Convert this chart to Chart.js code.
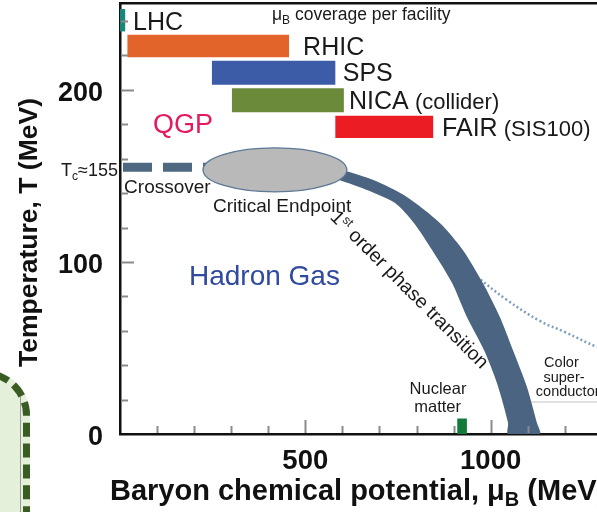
<!DOCTYPE html>
<html>
<head>
<meta charset="utf-8">
<title>QCD phase diagram</title>
<script src="https://cdn.jsdelivr.net/npm/chart.js@4/dist/chart.umd.min.js"></script>
<style>
  html, body { margin: 0; padding: 0; background: #fff; overflow: hidden; }
  #wrap { position: relative; width: 597px; height: 512px; overflow: hidden; }
  #inset { position: absolute; left: -70px; top: 370px; width: 100px; height: 220px; box-sizing: border-box;
           border: 7px dashed #3a5b22; border-radius: 45px; background: #e4f0da; }
  #insetEdge { position: absolute; left: 20px; top: 397px; width: 1px; height: 130px; background: #9c9c9c; }
  canvas { position: absolute; left: 0; top: 0; }
</style>
</head>
<body>
<div id="wrap">
  <div id="inset"></div>
  <div id="insetEdge"></div>
  <canvas id="c" width="597" height="512"></canvas>
</div>
<script>
// μB coverage (MeV) of each facility and the temperature strip its bar occupies
const facilities      = ['LHC', 'RHIC', 'SPS', 'NICA', 'FAIR'];
const facilityMuBLow  = [0, 20, 248, 302, 581];
const facilityMuBHigh = [14, 456, 581, 604, 845];
const facilityTLow    = [234, 219, 203, 187, 172];
const facilityTHigh   = [247, 232, 217, 201, 185];
const facilityColors  = ['#17877a', '#e2642a', '#3c5ca8', '#6b8b3a', '#ec1c24'];

// Crossover at the pseudo-critical temperature
const tc = 155;
const crossoverMuB = [0, 250];

// Critical endpoint region (centre and half extents)
const endpointMuB = 418, endpointT = 153.5;
const endpointHalfMuB = 194, endpointHalfT = 12.8;

// First-order transition band: outer edge top to bottom, inner edge bottom to top
const bandOuterMuB = [560, 682, 774, 863, 925, 979, 1025, 1060, 1098, 1125, 1133];
const bandOuterT   = [156, 147.7, 137.8, 122.7, 107, 87.8, 68, 48.8, 27.3, 6.4, 0];
const bandInnerMuB = [1047, 1047, 1017, 982, 936, 896, 842, 793, 742, 653, 560];
const bandInnerT   = [0, 6.4, 29.7, 48.8, 68, 87.8, 107, 122.7, 134.3, 143, 150];

// Colour-superconductor boundary
const cscMuB = [963, 1044, 1133, 1200, 1287, 1320];
const cscT   = [91.3, 77.9, 65.7, 59.3, 50.6, 48.5];
const cscBaseMuB = [1106, 1320];
const cscBaseT   = [18.6, 18.6];

// Nuclear matter
const nuclearMuB = [910, 936];
const nuclearT   = [0, 9];

// Axis ticks
const muBLabelTicks = [0, 500, 1000];
const tLabelTicks   = [0, 100, 200];
const muBMajorTicks = [500, 1000];
const muBMinorTicks = [100, 200, 300, 400, 600, 700, 800, 900, 1100, 1200];
const tMajorTicks   = [100, 200];
const tMinorTicks   = [20, 40, 60, 80, 120, 140, 160, 180, 220, 240];

const FONT = '"Liberation Sans", Arial, Helvetica, sans-serif';

function rect(x0, x1, y0, y1) {
  return [{x: x0, y: y0}, {x: x1, y: y0}, {x: x1, y: y1}, {x: x0, y: y1}];
}
function zipPts(xs, ys) { return xs.map((v, i) => ({x: v, y: ys[i]})); }

const datasets = [];

// facility bars
facilities.forEach((name, i) => {
  datasets.push({
    label: name,
    data: rect(facilityMuBLow[i], facilityMuBHigh[i], facilityTLow[i], facilityTHigh[i]),
    fill: 'shape', backgroundColor: facilityColors[i], borderWidth: 0,
    pointRadius: 0, tension: 0, order: 2
  });
});

// crossover (dashed)
datasets.push({
  label: 'Crossover',
  data: crossoverMuB.map(v => ({x: v, y: tc})),
  borderColor: '#4e6882', borderWidth: 9, borderDash: [29, 11], borderDashOffset: -3,
  borderCapStyle: 'butt', pointRadius: 0, fill: false, order: 3
});

// first-order band
datasets.push({
  label: '1st order phase transition',
  data: zipPts(bandOuterMuB, bandOuterT).concat(zipPts(bandInnerMuB, bandInnerT)),
  fill: 'shape', backgroundColor: '#4b6481', borderWidth: 0,
  pointRadius: 0, tension: 0.25, order: 3
});

// colour superconductor boundary
datasets.push({
  label: 'Color superconductor',
  data: zipPts(cscMuB, cscT),
  borderColor: '#7f9ec0', borderWidth: 2.5, borderDash: [2, 2.5],
  pointRadius: 0, fill: false, tension: 0.4, order: 4
});
datasets.push({
  label: 'Color superconductor base',
  data: zipPts(cscBaseMuB, cscBaseT),
  borderColor: '#c4c4c4', borderWidth: 1, pointRadius: 0, fill: false, order: 4
});

// nuclear matter
datasets.push({
  label: 'Nuclear matter',
  data: rect(nuclearMuB[0], nuclearMuB[1], nuclearT[0], nuclearT[1]),
  fill: 'shape', backgroundColor: '#127a3b', borderWidth: 0,
  pointRadius: 0, tension: 0, order: 1
});

// text annotations placed in data coordinates; runs = [text, size, baseline shift]
const annotations = [
  {muB: 35,   T: 240,   runs: [['LHC', 25]]},
  {muB: 494,  T: 225.6, runs: [['RHIC', 25]]},
  {muB: 601,  T: 210,   runs: [['SPS', 25]]},
  {muB: 618,  T: 194,   runs: [['NICA', 25], [' (collider)', 22]]},
  {muB: 869,  T: 178,   runs: [['FAIR', 25], [' (SIS100)', 22]]},
  {muB: 410,  T: 244,   runs: [['μ', 17.5], ['B', 12, 4], [' coverage per facility', 17.5]]},
  {muB: 89,   T: 180.2, runs: [['QGP', 27]], color: '#e5195f'},
  {muB: 11,   T: 144.2, runs: [['Crossover', 19]]},
  {muB: 251,  T: 132.8, runs: [['Critical Endpoint', 19]]},
  {muB: 186,  T: 92.4,  runs: [['Hadron Gas', 28]], color: '#2f4a9e'},
  {muB: 782,  T: 84.3,  runs: [['1', 19.5], ['st', 12.5, -7], [' order phase transition', 19.5]], align: 'center', angle: 45},
  {muB: 858,  T: 26.5,  runs: [['Nuclear', 16.5]], align: 'center'},
  {muB: 857,  T: 16.3,  runs: [['matter', 16.5]], align: 'center'},
  {muB: 1191, T: 41.9,  runs: [['Color', 14.5]], align: 'center'},
  {muB: 1198, T: 33.4,  runs: [['super-', 14.5]], align: 'center'},
  {muB: 1122, T: 25,    runs: [['conductor', 14.5]]}
];

function drawRuns(ctx, runs, x, yMid, align, color, weight) {
  weight = weight || 'normal';
  let total = 0;
  const widths = runs.map(r => {
    ctx.font = `${weight} ${r[1]}px ${FONT}`;
    const w = ctx.measureText(r[0]).width;
    total += w;
    return w;
  });
  let cx = align === 'center' ? x - total / 2 : (align === 'right' ? x - total : x);
  const base = yMid + 0.35 * runs[0][1];
  ctx.fillStyle = color || '#1a1a1a';
  ctx.textAlign = 'left';
  ctx.textBaseline = 'alphabetic';
  runs.forEach((r, i) => {
    ctx.font = `${weight} ${r[1]}px ${FONT}`;
    ctx.fillText(r[0], cx, base + (r[2] || 0));
    cx += widths[i];
  });
}

// keep the plot frame fixed: no extra label padding around the chart area
function noPad(s) {
  s.paddingTop = 0; s.paddingBottom = 0; s.paddingLeft = 0; s.paddingRight = 0;
}

const overlay = {
  id: 'overlay',
  afterDatasetsDraw(chart) {
    const {ctx, scales: {x, y}} = chart;
    // critical endpoint region
    const cx = x.getPixelForValue(endpointMuB), cy = y.getPixelForValue(endpointT);
    const rx = x.getPixelForValue(endpointMuB + endpointHalfMuB) - cx;
    const ry = cy - y.getPixelForValue(endpointT + endpointHalfT);
    ctx.save();
    ctx.beginPath();
    ctx.ellipse(cx, cy, rx, ry, 0, 0, Math.PI * 2);
    ctx.fillStyle = '#b9b9b9';
    ctx.fill();
    ctx.lineWidth = 1.3;
    ctx.strokeStyle = '#5d7896';
    ctx.stroke();
    ctx.restore();
  },
  afterDraw(chart) {
    const {ctx, chartArea: a, scales: {x, y}} = chart;
    ctx.save();
    // inward tick marks
    ctx.strokeStyle = '#8a8a8a';
    ctx.lineWidth = 2;
    const hTick = (v, len) => {
      const py = Math.round(y.getPixelForValue(v)) + 0.5;
      ctx.beginPath(); ctx.moveTo(a.left + 1, py); ctx.lineTo(a.left + 1 + len, py); ctx.stroke();
    };
    const vTick = (v, len) => {
      const px = Math.round(x.getPixelForValue(v)) + 0.5;
      ctx.beginPath(); ctx.moveTo(px, a.bottom - 1); ctx.lineTo(px, a.bottom - 1 - len); ctx.stroke();
    };
    tMinorTicks.forEach(v => hTick(v, 7));
    tMajorTicks.forEach(v => hTick(v, 13));
    muBMinorTicks.forEach(v => vTick(v, 7));
    muBMajorTicks.forEach(v => vTick(v, 13));

    // annotations
    annotations.forEach(an => {
      const px = x.getPixelForValue(an.muB), py = y.getPixelForValue(an.T);
      if (an.angle) {
        ctx.save();
        ctx.translate(px, py);
        ctx.rotate(an.angle * Math.PI / 180);
        drawRuns(ctx, an.runs, 0, 0, an.align, an.color);
        ctx.restore();
      } else {
        drawRuns(ctx, an.runs, px, py, an.align || 'left', an.color);
      }
    });

    // pseudo-critical temperature label at the left of the axis
    drawRuns(ctx, [['T', 18], ['c', 12, 4], ['≈' + tc, 18]], a.left - 2, y.getPixelForValue(tc) + 2, 'right', '#1a1a1a');

    // axis titles
    ctx.save();
    ctx.translate(a.left - 83, (a.top + a.bottom) / 2 + 14);
    ctx.rotate(-Math.PI / 2);
    ctx.font = `bold 26.5px ${FONT}`;
    ctx.fillStyle = '#111';
    ctx.textAlign = 'center';
    ctx.textBaseline = 'alphabetic';
    ctx.fillText('Temperature, T (MeV)', 0, 0);
    ctx.restore();

    drawRuns(ctx, [['Baryon chemical potential, μ', 29], ['B', 20, 6], [' (MeV)', 29]],
             a.left - 10, a.bottom + 56, 'left', '#111', 'bold');
    ctx.restore();
  }
};

new Chart(document.getElementById('c'), {
  type: 'line',
  data: { datasets },
  options: {
    responsive: false,
    animation: false,
    events: [],
    layout: { padding: 0 },
    plugins: { legend: { display: false }, tooltip: { enabled: false } },
    scales: {
      x: {
        type: 'linear', position: 'bottom', min: 0, max: 1287,
        grid: { display: false, drawTicks: false },
        border: { display: true, color: '#111', width: 2.5 },
        afterFit: s => { s.height = 78; noPad(s); },
        afterBuildTicks: s => { s.ticks = muBLabelTicks.map(v => ({value: v})); },
        ticks: {
          includeBounds: false, padding: 11, color: '#111',
          font: { family: FONT, size: 27.5, weight: 'bold' },
          callback: v => (v === 0 ? '' : String(v)), maxRotation: 0, autoSkip: false
        }
      },
      xTop: {
        type: 'linear', position: 'top', min: 0, max: 1287,
        grid: { display: false, drawTicks: false },
        border: { display: true, color: '#111', width: 2.5 },
        ticks: { display: false },
        afterFit: s => { s.height = 3; noPad(s); }
      },
      y: {
        type: 'linear', position: 'left', min: 0, max: 250.5,
        grid: { display: false, drawTicks: false },
        border: { display: true, color: '#111', width: 2.5 },
        afterFit: s => { s.width = 120; noPad(s); },
        afterBuildTicks: s => { s.ticks = tLabelTicks.map(v => ({value: v})); },
        ticks: {
          includeBounds: false, padding: 17, labelOffset: 4, color: '#111',
          font: { family: FONT, size: 27, weight: 'bold' }, autoSkip: false
        }
      }
    }
  },
  plugins: [overlay]
});
</script>
</body>
</html>
